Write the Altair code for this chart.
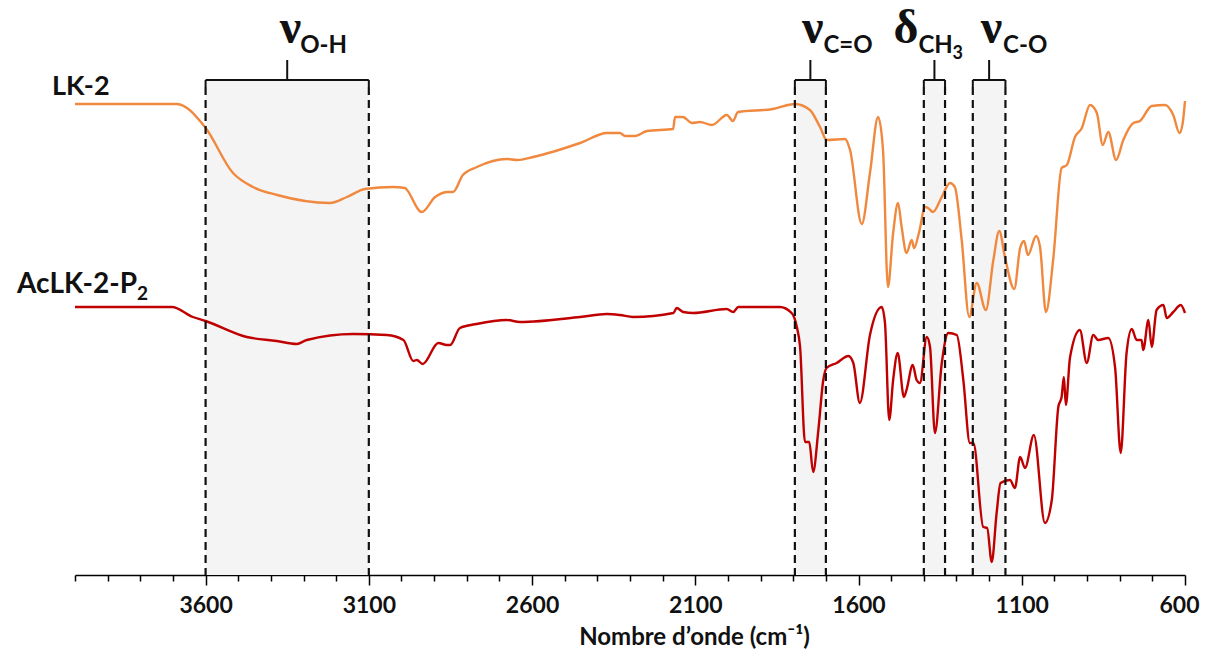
import altair as alt
import pandas as pd

# ---------------- data ----------------
# LK-2 spectrum: wavenumber (cm-1) and relative transmittance (a.u.)
lk2_wavenumber = [4000, 3688, 3602, 3516, 3455, 3381, 3219, 3167, 3112, 3026, 2989, 2983, 2938,
                  2897, 2857, 2842, 2812, 2769, 2677, 2646, 2597, 2453, 2370, 2331, 2315, 2285,
                  2248, 2168, 2162, 2138, 2110, 2086, 2049, 2003, 1985, 1969, 1862, 1795, 1749,
                  1718, 1697, 1641, 1626, 1590, 1565, 1540, 1525, 1510, 1494, 1479, 1468, 1453,
                  1437, 1430, 1415, 1396, 1387, 1372, 1345, 1320, 1305, 1284, 1261, 1238, 1210,
                  1187, 1169, 1151, 1123, 1105, 1093, 1081, 1056, 1044, 1026, 1003, 978, 962,
                  937, 916, 891, 870, 852, 835, 811, 789, 758, 738, 702, 661, 636, 617, 607, 600]
lk2_transmittance = [471, 471, 448, 402, 388, 380, 372, 378, 386, 388, 387, 385, 363,
                     378, 383, 383, 400, 408, 416, 415, 418, 432, 442, 442, 439, 439,
                     444, 446, 458, 458, 452, 453, 450, 460, 454, 463, 466, 471, 465,
                     448, 435, 436, 425, 351, 402, 458, 425, 288, 342, 372, 348, 322,
                     335, 327, 342, 368, 367, 363, 378, 392, 388, 335, 258, 292, 265,
                     315, 344, 317, 286, 327, 334, 320, 339, 328, 263, 318, 407, 410,
                     438, 447, 470, 462, 430, 443, 415, 435, 452, 454, 469, 470, 460, 442, 452, 474]

# AcLK-2-P2 spectrum
ac_wavenumber = [4000, 3703, 3639, 3600, 3474, 3382, 3321, 3290, 3148, 3045, 2994, 2964, 2953,
                 2935, 2887, 2861, 2851, 2821, 2770, 2678, 2637, 2453, 2371, 2331, 2290, 2167,
                 2157, 2137, 2106, 2004, 1984, 1968, 1841, 1805, 1789, 1779, 1764, 1751, 1739,
                 1723, 1708, 1698, 1667, 1631, 1616, 1596, 1565, 1529, 1519, 1506, 1494, 1480,
                 1461, 1453, 1434, 1422, 1412, 1391, 1381, 1366, 1345, 1325, 1299, 1279, 1259,
                 1248, 1218, 1206, 1192, 1177, 1165, 1136, 1121, 1105, 1090, 1063, 1029, 1008,
                 988, 978, 971, 965, 952, 922, 901, 881, 866, 835, 814, 797, 779, 763, 748, 733,
                 728, 712, 702, 687, 666, 656, 636, 613, 600]
ac_transmittance = [268, 268, 258, 254, 238, 234, 231, 235, 241, 240, 235, 214, 215,
                    211, 232, 230, 230, 247, 251, 255, 253, 258, 261, 260, 258, 262,
                    267, 263, 262, 266, 263, 268, 268, 262, 248, 228, 133, 133, 103,
                    145, 195, 207, 212, 219, 212, 172, 240, 268, 252, 155, 195, 222,
                    178, 185, 210, 195, 192, 238, 228, 142, 212, 242, 240, 195, 132,
                    132, 48, 47, 13, 62, 92, 95, 87, 118, 107, 140, 52, 75,
                    168, 178, 198, 170, 218, 245, 212, 240, 235, 237, 207, 122, 222, 246, 235, 235,
                    225, 255, 228, 265, 270, 257, 263, 270, 262]

series_names = ["LK-2", "AcLK-2-P2"]
series_colors = ["#F0883E", "#C00000"]

# annotated bands (cm-1)
band_start = [3600, 1795, 1400, 1250]
band_end = [3100, 1700, 1335, 1150]
band_symbol = ["ν", "ν", "δ", "ν"]
band_sub = ["O-H", "C=O", "CH", "C-O"]

x_tick_values = list(range(4000, 599, -100))

# annotation levels (in the y units of the chart)
BRACKET_Y = 495
BRACKET_END = 488
BRACKET_TICK = 515
SYMBOL_BASE = 532
SUB_BASE = 522.5
Y_MAX = 565

# ---------------- chart ----------------
x_scale = alt.Scale(domain=[600, 4000], reverse=True, nice=False, zero=False)
y_scale = alt.Scale(domain=[0, Y_MAX], nice=False, zero=False)

x_axis = alt.Axis(
    values=x_tick_values,
    format="d",
    labelExpr="datum.value % 500 === 100 ? datum.label : ''",
    labelOverlap=False,
    labelFlush=True,
    labelFlushOffset=14,
    labelFont="Lato",
    labelFontSize=23,
    labelFontWeight="bold",
    labelColor="#111111",
    labelPadding=9,
    tickSize={"condition": {"test": "datum.value % 500 === 100", "value": 10}, "value": 6},
    tickColor="#000000",
    tickWidth=1.5,
    domainColor="#000000",
    domainWidth=1.5,
    grid=False,
    title="Nombre d’onde (cm⁻¹)",
    titleFont="Lato",
    titleFontSize=24,
    titleFontWeight="bold",
    titleColor="#111111",
    titleX=619,
    titleY=69,
    titleAlign="center",
    titleBaseline="alphabetic",
)


def X(field):
    return alt.X(f"{field}:Q", scale=x_scale, axis=x_axis)


def Y(field):
    return alt.Y(f"{field}:Q", scale=y_scale, axis=None)


def YD(v):
    return alt.YDatum(v, scale=y_scale, axis=None)


spec_df = pd.concat([
    pd.DataFrame({"wn": lk2_wavenumber, "t": lk2_transmittance, "series": series_names[0]}),
    pd.DataFrame({"wn": ac_wavenumber, "t": ac_transmittance, "series": series_names[1]}),
], ignore_index=True)

band_df = pd.DataFrame({
    "start": band_start,
    "end": band_end,
    "centre": [(a + b) / 2 for a, b in zip(band_start, band_end)],
})
edge_df = pd.DataFrame({"edge": band_start + band_end})

shade = alt.Chart(band_df).mark_rect(color="#F4F4F4").encode(
    x=X("start"), x2="end", y=YD(BRACKET_Y), y2=alt.Y2Datum(0)
)

lines = alt.Chart(spec_df).mark_line(strokeWidth=2.4, interpolate="monotone").encode(
    x=X("wn"), y=Y("t"),
    color=alt.Color("series:N", scale=alt.Scale(domain=series_names, range=series_colors), legend=None),
)

dashes = alt.Chart(edge_df).mark_rule(color="#111111", strokeWidth=2.2, strokeDash=[8, 5]).encode(
    x=X("edge"), y=YD(BRACKET_END), y2=alt.Y2Datum(0)
)
bracket_h = alt.Chart(band_df).mark_rule(color="#111111", strokeWidth=2).encode(
    x=X("start"), x2="end", y=YD(BRACKET_Y)
)
bracket_v = alt.Chart(edge_df).mark_rule(color="#111111", strokeWidth=2).encode(
    x=X("edge"), y=YD(BRACKET_Y), y2=alt.Y2Datum(BRACKET_END)
)
bracket_t = alt.Chart(band_df).mark_rule(color="#111111", strokeWidth=2).encode(
    x=X("centre"), y=YD(BRACKET_Y), y2=alt.Y2Datum(BRACKET_TICK)
)


def text_at(txt, wn, yval, font, size, weight, align, dx=0, dy=0, color="#111111"):
    df = pd.DataFrame({"wn": [wn], "t": [yval], "label": [txt]})
    return alt.Chart(df).mark_text(
        font=font, fontSize=size, fontWeight=weight, align=align,
        baseline="alphabetic", dx=dx, dy=dy, color=color,
    ).encode(x=X("wn"), y=Y("t"), text="label:N")


texts = []
# series labels, anchored at the first point of each spectrum
texts.append(text_at("LK-2", lk2_wavenumber[0], lk2_transmittance[0], "Lato", 27, "bold", "left", dx=-23, dy=-9))
texts.append(text_at("AcLK-2-P", ac_wavenumber[0], ac_transmittance[0], "Lato", 28, "bold", "right", dx=62, dy=-14))
texts.append(text_at("2", ac_wavenumber[0], ac_transmittance[0], "Lato", 19, "bold", "left", dx=62, dy=-7))

# band labels
sym_dx = [14, 13, -16, 13]
sub_dx = [13, 13, -16, 14]
for i in range(len(band_start)):
    c = (band_start[i] + band_end[i]) / 2
    texts.append(text_at(band_symbol[i], c, SYMBOL_BASE, "Liberation Serif", 48, "bold", "right", dx=sym_dx[i]))
    texts.append(text_at(band_sub[i], c, SUB_BASE, "Lato", 24, "bold", "left", dx=sub_dx[i]))
# subscript 3 of CH3
c_ch3 = (band_start[2] + band_end[2]) / 2
texts.append(text_at("3", c_ch3, SUB_BASE - 6, "Lato", 18, "bold", "left", dx=18))

chart = alt.layer(shade, lines, dashes, bracket_h, bracket_v, bracket_t, *texts).properties(
    width=1110,
    height=565,
    autosize=alt.AutoSizeParams(type="none"),
    padding={"left": 67, "top": 2, "right": 15, "bottom": 76},
    background="white",
).configure_view(stroke=None)

chart.save("out.html", embed_options={"renderer": "svg", "actions": False})
